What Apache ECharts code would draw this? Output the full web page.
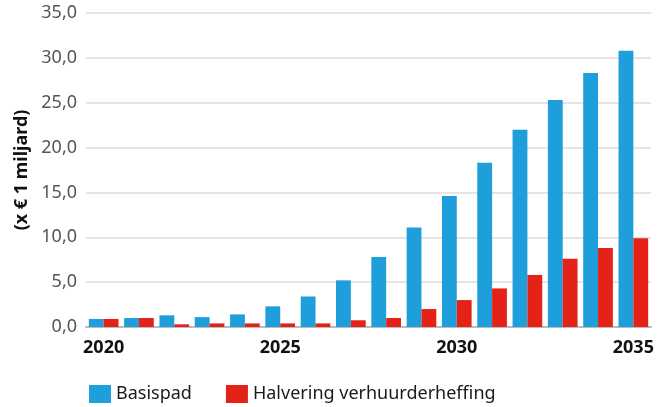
<!DOCTYPE html>
<html>
<head>
<meta charset="utf-8">
<script src="https://cdn.jsdelivr.net/npm/echarts@6/dist/echarts.min.js"></script>
<style>
  html, body { margin: 0; padding: 0; background: #fff; }
  #chart { width: 670px; height: 407px; }
</style>
</head>
<body>
<div id="chart"></div>
<script>
// jaren
var years = ['2020', '2021', '2022', '2023', '2024', '2025', '2026', '2027',
  '2028', '2029', '2030', '2031', '2032', '2033', '2034', '2035'];
// x € 1 miljard
var basispad = [0.9, 1.0, 1.3, 1.1, 1.4, 2.3, 3.4, 5.2, 7.8, 11.1, 14.6, 18.3, 22.0, 25.3, 28.3, 30.8];
var halvering = [0.9, 1.0, 0.3, 0.4, 0.4, 0.4, 0.4, 0.75, 1.0, 2.0, 3.0, 4.3, 5.8, 7.6, 8.8, 9.9];
var seriesNames = ['Basispad', 'Halvering verhuurderheffing'];

var chart = echarts.init(document.getElementById('chart'));
var font = '"Noto Sans", "Open Sans", sans-serif';

var option = {
  animation: false,
  color: ['#1e9fdb', '#e42218'],
  textStyle: { fontFamily: font },
  grid: { left: 86, right: 19, top: 13, bottom: 80 },
  legend: {
    data: seriesNames,
    left: 84,
    top: 380,
    itemWidth: 22,
    itemHeight: 18,
    itemGap: 34,
    icon: 'rect',
    textStyle: { fontSize: 18, color: '#1a1a1a', fontFamily: font }
  },
  xAxis: {
    type: 'category',
    data: years,
    axisTick: { show: false },
    axisLine: { lineStyle: { color: '#bbb', width: 2 } },
    axisLabel: {
      interval: 4,
      fontSize: 18,
      fontWeight: 'bold',
      color: '#111',
      margin: 12
    }
  },
  yAxis: {
    type: 'value',
    min: 0,
    max: 35,
    interval: 5,
    name: '(x € 1 miljard)',
    nameLocation: 'middle',
    nameGap: 52,
    nameTextStyle: { fontSize: 18, fontWeight: 'bold', color: '#111' },
    axisLine: { show: false },
    axisTick: { show: false },
    splitLine: { lineStyle: { color: '#ddd', width: 1.5 } },
    axisLabel: {
      fontSize: 18,
      color: '#555',
      margin: 9,
      formatter: function (v) { return v.toFixed(1).replace('.', ','); }
    }
  },
  series: [
    {
      name: seriesNames[0],
      type: 'bar',
      data: basispad,
      barGap: '0%',
      barCategoryGap: '16%'
    },
    {
      name: seriesNames[1],
      type: 'bar',
      data: halvering
    }
  ]
};

chart.setOption(option);
</script>
</body>
</html>
